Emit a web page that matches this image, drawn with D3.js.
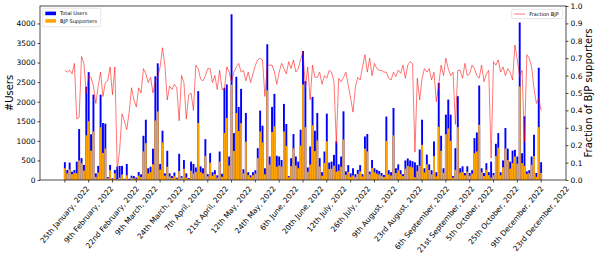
<!DOCTYPE html>
<html lang="en">
<head>
<meta charset="UTF-8">
<title>Users and BJP supporters per day</title>
<script src="https://cdn.jsdelivr.net/npm/d3@7"></script>
<style>
    body{ margin:0; background-color:white; }
    svg{ display:block; font-family:"DejaVu Sans", sans-serif; }
</style>
</head>
<body>
<script>
// one tick label every 10 bars
const tickLabels = ["25th January, 2022","9th February, 2022","22nd February, 2022","9th March, 2022",
    "24th March, 2022","7th April, 2022","21st April, 2022","12th May, 2022","24th May, 2022",
    "6th June, 2022","20th June, 2022","12th July, 2022","26th July, 2022","9th August, 2022",
    "23rd August, 2022","6th September, 2022","21st September, 2022","5th October, 2022",
    "25th October, 2022","9th December, 2022","23rd December, 2022"];
const tickEvery = 10;

const totalUsers = [
    455, 256, 445, 214, 256, 470, 1300, 560, 385, 2380,
    2756, 1170, 2180, 170, 360, 2180, 1455, 1440, 75, 385,
    45, 257, 340, 360, 360, 30, 410, 30, 110, 100,
    60, 205, 145, 1130, 1540, 300, 340, 800, 2650, 2980,
    410, 1260, 170, 745, 170, 100, 190, 60, 670, 100,
    510, 170, 50, 470, 410, 320, 2270, 350, 300, 1044,
    150, 685, 200, 250, 120, 728, 160, 2354, 2440, 600,
    4233, 1198, 2636, 1866, 2328, 274, 1712, 200, 120, 200,
    250, 813, 1772, 1387, 300, 3467, 600, 1866, 2200, 620,
    600, 510, 1943, 1430, 100, 556, 1173, 600, 470, 1284,
    3296, 2525, 320, 856, 2123, 1258, 1712, 560, 200, 727,
    1695, 445, 470, 642, 985, 400, 600, 1755, 220, 380,
    170, 300, 150, 260, 380, 150, 1112, 1173, 215, 510,
    300, 260, 230, 180, 130, 1620, 250, 200, 1840, 300,
    400, 250, 150, 500, 550, 500, 480, 450, 380, 780,
    1540, 300, 650, 400, 250, 985, 200, 2480, 1130, 300,
    1670, 2054, 1670, 100, 813, 2140, 300, 350, 180, 350,
    180, 250, 1070, 1215, 2414, 300, 180, 430, 200, 470,
    180, 925, 1198, 200, 500, 1327, 800, 470, 750, 770,
    600, 4023, 685, 1626, 220, 250, 600, 1155, 180, 2868,
    454
];

const bjpSupporters = [
    300, 170, 270, 150, 180, 170, 500, 430, 240, 1140,
    1500, 750, 1240, 80, 190, 1350, 690, 800, 45, 250,
    25, 170, 20, 60, 140, 10, 120, 12, 60, 45,
    25, 110, 75, 730, 940, 170, 200, 400, 1520, 1750,
    265, 960, 110, 340, 90, 52, 105, 32, 228, 60,
    285, 60, 25, 235, 165, 210, 1455, 200, 170, 616,
    95, 445, 110, 150, 60, 470, 85, 1200, 1584, 370,
    2436, 742, 1712, 1250, 1450, 170, 980, 125, 68, 122,
    165, 560, 1240, 960, 145, 2290, 395, 1230, 1370, 340,
    370, 340, 1240, 870, 68, 355, 810, 370, 300, 880,
    2440, 1350, 210, 395, 1400, 740, 1010, 345, 110, 435,
    990, 280, 290, 365, 210, 235, 340, 1035, 135, 205,
    80, 117, 80, 155, 220, 90, 800, 730, 150, 305,
    200, 165, 145, 110, 80, 1000, 145, 115, 1140, 180,
    250, 155, 100, 290, 360, 340, 320, 70, 225, 365,
    900, 190, 400, 255, 145, 610, 90, 1360, 745, 180,
    1170, 1315, 1000, 62, 260, 1350, 190, 205, 120, 210,
    110, 165, 685, 730, 1410, 198, 102, 262, 126, 60,
    122, 610, 825, 124, 325, 800, 510, 290, 430, 600,
    415, 2390, 430, 360, 158, 175, 390, 610, 80, 1350,
    182
];

const fractionBJP = [
    0.63, 0.62, 0.63, 0.61, 0.67, 0.35, 0.36, 0.71, 0.67, 0.50,
    0.60, 0.59, 0.54, 0.44, 0.54, 0.62, 0.48, 0.56, 0.57, 0.65,
    0.49, 0.65, 0.06, 0.17, 0.38, 0.34, 0.29, 0.39, 0.53, 0.46,
    0.42, 0.53, 0.50, 0.64, 0.61, 0.56, 0.59, 0.50, 0.57, 0.59,
    0.65, 0.76, 0.66, 0.46, 0.54, 0.52, 0.55, 0.53, 0.34, 0.60,
    0.56, 0.35, 0.49, 0.50, 0.40, 0.66, 0.64, 0.58, 0.57, 0.60,
    0.64, 0.64, 0.56, 0.60, 0.52, 0.63, 0.52, 0.52, 0.65, 0.62,
    0.56, 0.62, 0.65, 0.67, 0.62, 0.63, 0.57, 0.62, 0.56, 0.61,
    0.66, 0.69, 0.70, 0.69, 0.48, 0.66, 0.66, 0.66, 0.62, 0.55,
    0.62, 0.67, 0.64, 0.61, 0.68, 0.64, 0.69, 0.62, 0.64, 0.69,
    0.74, 0.53, 0.65, 0.46, 0.66, 0.59, 0.59, 0.62, 0.55, 0.60,
    0.585, 0.63, 0.62, 0.565, 0.21, 0.585, 0.565, 0.59, 0.62, 0.545,
    0.47, 0.39, 0.535, 0.59, 0.575, 0.65, 0.72, 0.62, 0.70, 0.60,
    0.67, 0.64, 0.63, 0.63, 0.62, 0.62, 0.585, 0.575, 0.62, 0.594,
    0.632, 0.613, 0.66, 0.585, 0.66, 0.68, 0.67, 0.16, 0.585, 0.46,
    0.585, 0.64, 0.62, 0.64, 0.575, 0.62, 0.45, 0.55, 0.66, 0.60,
    0.70, 0.64, 0.60, 0.62, 0.32, 0.63, 0.63, 0.585, 0.67, 0.60,
    0.61, 0.66, 0.64, 0.60, 0.585, 0.66, 0.565, 0.61, 0.63, 0.125,
    0.68, 0.66, 0.69, 0.62, 0.65, 0.60, 0.64, 0.62, 0.575, 0.776,
    0.69, 0.594, 0.63, 0.22, 0.72, 0.70, 0.65, 0.527, 0.44, 0.47,
    0.40
];

const userTicks = [0, 500, 1000, 1500, 2000, 2500, 3000, 3500, 4000];
const fracTicks = [0, 0.1, 0.2, 0.3, 0.4, 0.5, 0.6, 0.7, 0.8, 0.9, 1.0];

const w = 598, h = 253;
const margin = {left:40, right:32, top:6, bottom:73};
const plotL = margin.left, plotR = w - margin.right;
const plotT = margin.top, plotB = h - margin.bottom;
const tickFont = 7.5;
const rot = 50;

const svg = d3.select("body").append("svg").attr("width", w).attr("height", h);
svg.append("rect").attr("width", w).attr("height", h).attr("fill", "white");

// matplotlib style limits: bars width 0.8 plus 5% margin
const n = totalUsers.length;
const span = (n - 1) + 0.8;
const xScale = d3.scaleLinear()
    .domain([-0.4 - 0.05 * span, n - 1 + 0.4 + 0.05 * span])
    .range([plotL, plotR]);
const yScale = d3.scaleLinear()
    .domain([0, d3.max(totalUsers) * 1.05])
    .range([plotB, plotT]);
const fScale = d3.scaleLinear().domain([0, 1]).range([plotB, plotT]);

const bw = xScale(0.8) - xScale(0);

svg.append("g").selectAll("rect")
    .data(totalUsers)
    .enter()
    .append("rect")
    .attr("x", function(d, i){ return xScale(i - 0.4); })
    .attr("y", function(d){ return yScale(d); })
    .attr("width", bw)
    .attr("height", function(d){ return plotB - yScale(d); })
    .attr("fill", "#0000ff");

svg.append("g").selectAll("rect")
    .data(bjpSupporters)
    .enter()
    .append("rect")
    .attr("x", function(d, i){ return xScale(i - 0.4); })
    .attr("y", function(d){ return yScale(d); })
    .attr("width", bw)
    .attr("height", function(d){ return plotB - yScale(d); })
    .attr("fill", "#ffa500");

const line = d3.line()
    .x(function(d, i){ return xScale(i); })
    .y(function(d){ return fScale(d); });

svg.append("path")
    .datum(fractionBJP)
    .attr("d", line)
    .attr("fill", "none")
    .attr("stroke", "red")
    .attr("stroke-opacity", 0.6)
    .attr("stroke-width", 0.9);

// axes
const yAxis = d3.axisLeft(yScale).tickValues(userTicks).tickFormat(d3.format("d")).tickSize(2.5).tickPadding(2);
const gy = svg.append("g").attr("transform", "translate(" + plotL + ",0)").call(yAxis);

const fAxis = d3.axisRight(fScale).tickValues(fracTicks).tickFormat(d3.format(".1f")).tickSize(2.5).tickPadding(2);
const gf = svg.append("g").attr("transform", "translate(" + plotR + ",0)").call(fAxis);

[gy, gf].forEach(function(g){
    g.select(".domain").remove();
    g.selectAll("line").attr("stroke", "black").attr("stroke-width", 0.7);
    g.selectAll("text").attr("font-size", tickFont).attr("font-family", "DejaVu Sans").attr("fill", "black");
});

// x ticks every tickEvery bars, labels rotated
const xt = svg.append("g");
tickLabels.forEach(function(lab, k){
    const tx = xScale(k * tickEvery);
    xt.append("line")
        .attr("x1", tx).attr("x2", tx)
        .attr("y1", plotB).attr("y2", plotB + 2.5)
        .attr("stroke", "black").attr("stroke-width", 0.7);
    const t = xt.append("text")
        .attr("font-size", tickFont)
        .attr("text-anchor", "middle")
        .attr("dominant-baseline", "central")
        .text(lab);
    const L = t.node().getComputedTextLength();
    const a = rot * Math.PI / 180;
    const H = L * Math.sin(a) + tickFont * 1.1 * Math.cos(a);
    t.attr("transform", "translate(" + tx + "," + (plotB + 4.5 + H / 2) + ") rotate(" + (-rot) + ")");
});

// frame
svg.append("rect")
    .attr("x", plotL).attr("y", plotT)
    .attr("width", plotR - plotL).attr("height", plotB - plotT)
    .attr("fill", "none").attr("stroke", "black").attr("stroke-width", 0.7);

// axis titles
svg.append("text")
    .attr("transform", "translate(9.5," + ((plotT + plotB) / 2) + ") rotate(-90)")
    .attr("text-anchor", "middle").attr("dominant-baseline", "central")
    .attr("font-size", 10).text("#Users");
svg.append("text")
    .attr("transform", "translate(588," + ((plotT + plotB) / 2) + ") rotate(-90)")
    .attr("text-anchor", "middle").attr("dominant-baseline", "central")
    .attr("font-size", 10).text("Fraction of BJP supporters");

// legends
const lg = svg.append("g");
lg.append("rect").attr("x", 42.7).attr("y", 8.3).attr("width", 58).attr("height", 18.4)
    .attr("rx", 1.2).attr("fill", "white").attr("fill-opacity", 0.8)
    .attr("stroke", "#cccccc").attr("stroke-width", 0.5);
lg.append("rect").attr("x", 45.3).attr("y", 11.6).attr("width", 10.7).attr("height", 3.6).attr("fill", "#0000ff");
lg.append("text").attr("x", 60).attr("y", 13.4).attr("dominant-baseline", "central")
    .attr("font-size", 5).text("Total Users");
lg.append("rect").attr("x", 45.3).attr("y", 19.1).attr("width", 10.7).attr("height", 3.6).attr("fill", "#ffa500");
lg.append("text").attr("x", 60).attr("y", 20.9).attr("dominant-baseline", "central")
    .attr("font-size", 5).text("BJP Supporters");

const rg = svg.append("g");
rg.append("rect").attr("x", 511.7).attr("y", 9.3).attr("width", 51).attr("height", 9.3)
    .attr("rx", 1.2).attr("fill", "white").attr("fill-opacity", 0.8)
    .attr("stroke", "#cccccc").attr("stroke-width", 0.5);
rg.append("line").attr("x1", 514.3).attr("x2", 525).attr("y1", 14).attr("y2", 14)
    .attr("stroke", "red").attr("stroke-opacity", 0.6).attr("stroke-width", 0.9);
rg.append("text").attr("x", 529.3).attr("y", 14).attr("dominant-baseline", "central")
    .attr("font-size", 5).text("Fraction BJP");
</script>
</body>
</html>
